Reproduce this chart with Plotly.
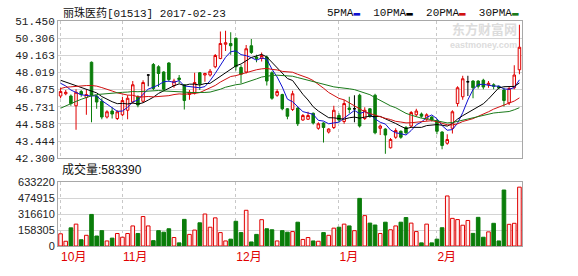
import plotly.graph_objects as go
import pandas as pd

# ---- data -------------------------------------------------------------
month_starts = [0, 12, 34, 54, 73]
month_labels = ["10月", "11月", "12月", "1月", "2月"]

price_ticks = ["42.300", "43.444", "44.588", "45.731", "46.875",
               "48.019", "49.163", "50.306", "51.450"]
volume_ticks = [0, 158305, 316610, 474915, 633220]

price_open = [
    46.45, 46.6, 46.45, 45.8, 46.75, 46.35, 48.7, 46.45, 46.1, 45.05, 45.45, 44.95,
    45.2, 45.5, 46.05, 46.4, 46.1, 47.85, 48.55, 48.4, 48.05, 48.65, 47.15, 47.65,
    47.2, 46.55, 46.65, 48.0, 47.85, 47.85, 48.4, 48.95, 49.9, 49.95,
    50.3, 48.35, 48.05, 49.8, 49.05, 48.95, 49.05, 48.0, 46.5, 46.55, 45.6, 45.55,
    45.65, 44.85, 44.9, 45.3, 44.3, 44.65, 44.05, 44.35,
    45.15, 44.75, 45.65, 45.6, 46.5, 44.95, 45.6, 46.5, 44.3, 44.25, 43.0, 43.7,
    44.1, 44.35, 44.45, 45.2, 45.25, 44.9, 45.05,
    44.8, 44.05, 43.3, 44.3, 45.95, 46.4, 47.4, 47.45, 47.45, 47.5, 47.2, 47.2,
    47.1, 46.85, 46.0, 47.0, 48.2,
]
price_high = [
    47.0, 46.85, 46.55, 46.9, 46.85, 46.9, 48.75, 46.5, 46.3, 45.5, 45.7, 45.5,
    46.4, 46.5, 47.45, 46.5, 47.5, 47.9, 48.65, 48.5, 48.1, 48.7, 47.6, 47.85,
    47.25, 46.85, 48.0, 48.05, 48.0, 48.25, 49.25, 50.75, 50.8, 50.7,
    50.35, 48.5, 49.85, 50.25, 49.2, 49.35, 49.15, 48.1, 46.9, 46.6, 45.65, 46.8,
    45.7, 45.25, 45.4, 45.35, 44.7, 44.7, 44.3, 45.8,
    45.3, 46.2, 46.4, 46.5, 46.6, 45.7, 45.65, 46.6, 44.55, 44.3, 43.65, 44.3,
    44.15, 44.45, 45.45, 45.6, 45.35, 45.3, 45.1,
    44.9, 44.1, 43.9, 45.5, 47.1, 47.8, 47.8, 47.5, 47.5, 47.6, 47.45, 47.3,
    47.15, 47.0, 47.05, 48.5, 51.2,
]
price_low = [
    46.3, 46.5, 45.8, 44.2, 46.4, 45.2, 44.7, 45.6, 44.9, 44.95, 44.95, 44.85,
    45.1, 44.9, 45.95, 45.7, 46.0, 47.1, 46.85, 47.05, 46.8, 47.4, 47.0, 47.3,
    45.55, 46.2, 46.55, 46.85, 47.4, 47.75, 48.3, 48.9, 49.45, 49.2,
    48.15, 47.3, 47.95, 49.25, 48.7, 48.75, 47.15, 46.2, 46.4, 45.5, 44.9, 45.45,
    44.45, 44.8, 44.85, 44.55, 44.2, 43.35, 43.95, 44.25,
    44.7, 44.6, 45.3, 44.7, 44.35, 44.85, 45.0, 43.9, 43.85, 42.6, 42.95, 43.6,
    43.6, 43.9, 44.35, 45.1, 45.0, 44.8, 44.75,
    43.9, 42.9, 43.2, 43.95, 45.75, 46.2, 46.45, 46.3, 46.95, 46.9, 47.0, 46.9,
    46.9, 45.75, 45.85, 46.9, 47.9,
]
price_close = [
    46.75, 46.7, 45.95, 46.7, 46.55, 46.55, 46.5, 46.05, 45.05, 45.4, 45.25, 45.4,
    46.15, 46.3, 47.2, 45.85, 47.35, 47.85, 46.95, 47.95, 46.9, 47.55, 47.45, 47.55,
    46.15, 46.7, 47.35, 47.25, 47.95, 48.1, 49.15, 49.95, 50.0, 49.8,
    48.4, 47.9, 49.6, 49.35, 48.95, 49.15, 47.45, 46.3, 46.75, 45.6, 45.1, 46.6,
    44.6, 45.15, 45.15, 44.65, 44.6, 44.35, 44.25, 45.5,
    44.85, 45.95, 45.55, 45.6, 44.45, 45.5, 45.1, 44.0, 44.45, 43.85, 43.55, 44.15,
    43.7, 44.0, 45.35, 45.45, 45.1, 45.2, 44.85,
    44.1, 43.15, 43.55, 45.4, 47.0, 47.6, 47.4, 47.0, 47.1, 47.05, 47.3, 47.1,
    47.0, 46.15, 46.95, 47.85, 49.7,
]
volume = [
    121000, 47000, 180000, 217000, 62000, 106000, 313000, 99000, 152000, 50000, 78000, 124000,
    87000, 124000, 199000, 124000, 292000, 199000, 53000, 152000, 137000, 171000, 84000, 31000,
    264000, 115000, 158000, 230000, 317000, 186000, 279000, 133000, 50000, 68000,
    245000, 133000, 354000, 40000, 115000, 261000, 171000, 161000, 50000, 152000, 137000, 143000,
    236000, 65000, 84000, 50000, 47000, 133000, 106000, 177000,
    186000, 217000, 199000, 152000, 472000, 301000, 227000, 208000, 124000, 236000, 161000, 199000,
    236000, 282000, 227000, 143000, 31000, 217000, 31000,
    68000, 181000, 496000, 274000, 262000, 206000, 253000, 125000, 284000, 87000, 140000, 225000,
    50000, 555000, 215000, 225000, 583390,
]
# closes of the sessions before the first visible bar (feed the moving averages)
prior_close = [
    41.6, 41.9, 42.2, 42.4, 42.8, 43.2, 43.6, 43.9, 44.2, 44.3,
    45.0, 45.4, 45.8, 46.0, 46.3, 46.5, 46.8, 47.0, 47.4, 47.8,
    47.9, 47.6, 47.8, 47.5, 47.7, 47.6, 47.3, 47.5, 47.35,
]
ma_periods = [5, 10, 20, 30]
ma_names = ["5PMA", "10PMA", "20PMA", "30PMA"]

# ---- styling ----------------------------------------------------------
UP = "#e00000"
UP_FILL = "#fff2f2"
DOWN = "#0a7d0a"
MA_COLORS = ["#1010d0", "#000000", "#d01010", "#1a7a1a"]
GRID = "#d4d4d4"
FRAME = "#a8a8a8"
MONO = "Liberation Mono, Noto Sans CJK SC, monospace"
SANS = "Liberation Sans, Noto Sans CJK SC, sans-serif"

n = len(price_close)
x = list(range(n))
doji = [o == c for o, c in zip(price_open, price_close)]

fig = go.Figure()

# regular candles
idx = [i for i in x if not doji[i]]
fig.add_trace(go.Candlestick(
    x=idx,
    open=[price_open[i] for i in idx], high=[price_high[i] for i in idx],
    low=[price_low[i] for i in idx], close=[price_close[i] for i in idx],
    increasing=dict(line=dict(color=UP, width=1), fillcolor=UP_FILL),
    decreasing=dict(line=dict(color=DOWN, width=1), fillcolor=DOWN),
    whiskerwidth=0, showlegend=False, hoverinfo="skip",
    xaxis="x", yaxis="y",
))
# cross-shaped sessions (open == close)
didx = [i for i in x if doji[i]]
fig.add_trace(go.Candlestick(
    x=didx,
    open=[price_open[i] for i in didx], high=[price_high[i] for i in didx],
    low=[price_low[i] for i in didx], close=[price_close[i] for i in didx],
    increasing=dict(line=dict(color="#000000", width=1), fillcolor="#000000"),
    decreasing=dict(line=dict(color="#000000", width=1), fillcolor="#000000"),
    whiskerwidth=0, showlegend=False, hoverinfo="skip",
    xaxis="x", yaxis="y",
))

# moving averages of the close
closes = pd.Series(prior_close + price_close)
for period, name, col in zip(ma_periods, ma_names, MA_COLORS):
    ma = closes.rolling(period).mean().iloc[len(prior_close):].tolist()
    fig.add_trace(go.Scatter(
        x=x, y=ma, mode="lines", name=name,
        line=dict(color=col, width=1), showlegend=False, hoverinfo="skip",
        xaxis="x", yaxis="y",
    ))

# volume
rising = [c >= o for o, c in zip(price_open, price_close)]
fig.add_trace(go.Bar(
    x=x, y=volume,
    marker=dict(color=[UP_FILL if r else DOWN for r in rising],
                line=dict(color=[UP if r else DOWN for r in rising], width=1)),
    showlegend=False, hoverinfo="skip",
    xaxis="x2", yaxis="y2",
))

# ---- layout -----------------------------------------------------------
W, H = 578, 276
L, R, T, B = 58, 56, 21, 19
plot_h = H - T - B
price_bottom_px = 165
vol_top_px = 190

xaxis_common = dict(
    range=[-0.5, n - 0.5], tickvals=month_starts, showgrid=True,
    gridcolor="#c8c8c8", griddash="3px,3px", gridwidth=1,
    zeroline=False, showline=True, linecolor=FRAME, mirror=True, ticks="",
)
fig.update_layout(
    width=W, height=H,
    margin=dict(l=L, r=R, t=T, b=B),
    paper_bgcolor="white", plot_bgcolor="white",
    bargap=0.3,
    xaxis=dict(**xaxis_common, anchor="y", showticklabels=False,
               rangeslider=dict(visible=False)),
    xaxis2=dict(**xaxis_common, anchor="y2", matches="x",
                ticktext=month_labels, showticklabels=True,
                ticklabelposition="outside right",
                tickfont=dict(family=SANS, size=12, color=UP)),
    yaxis=dict(domain=[(H - B - price_bottom_px) / plot_h, 1],
               range=[float(price_ticks[0]), float(price_ticks[-1])],
               tickvals=[float(t) for t in price_ticks], ticktext=price_ticks,
               showgrid=True, gridcolor=GRID, zeroline=False,
               showline=True, linecolor=FRAME, mirror=True, ticks="",
               tickfont=dict(family=MONO, size=11, color="#222")),
    yaxis2=dict(domain=[0, (H - B - vol_top_px) / plot_h],
                range=[volume_ticks[0], volume_ticks[-1]],
                tickvals=volume_ticks, ticktext=[str(v) for v in volume_ticks],
                showgrid=True, gridcolor=GRID, zeroline=False,
                showline=True, linecolor=FRAME, mirror=True, ticks="",
                tickfont=dict(family=SANS, size=11, color="#222")),
)

def py(px):
    """paper y for a pixel row"""
    return (H - B - px) / plot_h

def px_x(px):
    return (px - L) / (W - L - R)

legend_text = "  ".join(
    f'{name}<span style="color:{col}">▬</span>'
    for name, col in zip(ma_names, MA_COLORS)
)
fig.add_annotation(text="丽珠医药[01513] 2017-02-23", xref="paper", yref="paper",
                   x=px_x(61), y=py(13), xanchor="left", yanchor="middle",
                   showarrow=False, font=dict(family=MONO, size=11, color="#111"))
fig.add_annotation(text=legend_text, xref="paper", yref="paper",
                   x=px_x(521), y=py(13), xanchor="right", yanchor="middle",
                   showarrow=False, font=dict(family=MONO, size=11, color="#111"))
fig.add_annotation(text=f"成交量:{volume[-1]}", xref="paper", yref="paper",
                   x=px_x(60), y=py(177), xanchor="left", yanchor="middle",
                   showarrow=False, font=dict(family=SANS, size=12, color="#111"))
# watermark
fig.add_annotation(text="<b>东方财富网</b>", xref="paper", yref="paper",
                   x=px_x(518), y=py(30), xanchor="right", yanchor="middle",
                   showarrow=False, borderpad=0,
                   font=dict(family=SANS, size=13, color="#dcdcdc"))
fig.add_annotation(text="<b>eastmoney.com</b>", xref="paper", yref="paper",
                   x=px_x(518), y=py(46), xanchor="right", yanchor="middle",
                   showarrow=False, borderpad=0,
                   font=dict(family=SANS, size=9, color="#dcdcdc"))

fig.write_html("out.html")
